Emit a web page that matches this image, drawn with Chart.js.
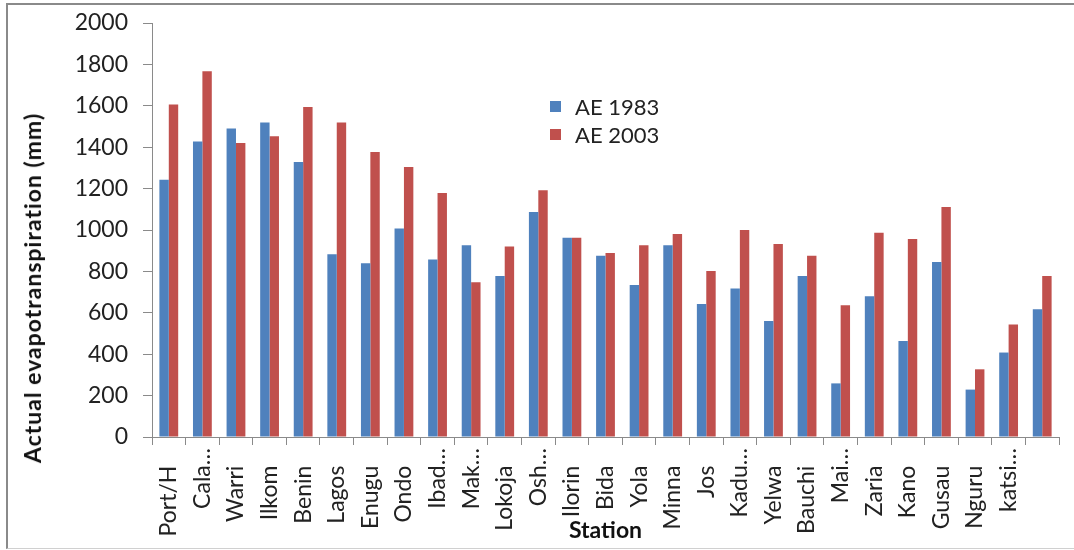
<!DOCTYPE html>
<html>
<head>
<meta charset="utf-8">
<script src="https://cdn.jsdelivr.net/npm/chart.js@4.4.1/dist/chart.umd.min.js"></script>
<style>
  html, body { margin:0; padding:0; background:#fff; }
  #wrap { position:relative; width:1074px; height:550px; overflow:hidden; }
  #frame { position:absolute; left:6px; top:3px; width:1200px; height:543px;
           border-top:2px solid #8a8a8a; border-left:2px solid #8a8a8a; border-bottom:1px solid #d0d0d0; }
  canvas { position:absolute; left:0; top:0; }
  #ytitle { position:absolute; left:32px; top:288px; transform:translate(-50%,-50%) rotate(-90deg);
            white-space:nowrap; font-family:Lato, sans-serif; font-weight:bold; font-size:23px; letter-spacing:1px; color:#111; }
  #legend { position:absolute; left:550px; top:92px; font-family:Lato, sans-serif; font-size:22px; color:#222; }
  .li { display:flex; align-items:center; height:28px; }
  .sw { width:11px; height:11px; margin-right:14px; }
</style>
</head>
<body>
<div id="wrap">
  <div id="frame"></div>
  <canvas id="c" width="1074" height="550"></canvas>
  <div id="ytitle"></div>
  <div id="legend"></div>
</div>
<script>
const stations = ["Port/H   ","Cala…","Warri   ","Ilkom   ","Benin   ","Lagos   ","Enugu   ","Ondo   ","Ibad…","Mak…","Lokoja   ","Osh…","Ilorin   ","Bida   ","Yola   ","Minna   ","Jos   ","Kadu…","Yelwa   ","Bauchi   ","Mai…","Zaria   ","Kano   ","Gusau   ","Nguru   ","katsi…",""];
const ae1983 = [1243,1427,1490,1519,1329,883,839,1007,858,926,778,1087,963,876,734,926,643,717,560,778,259,680,464,845,229,408,617];
const ae2003 = [1606,1767,1420,1453,1594,1519,1377,1304,1179,747,920,1192,963,889,926,981,802,1000,932,876,636,987,957,1111,327,543,778];
const seriesNames = ["AE 1983","AE 2003"];
const seriesColors = ["#4F81BD","#C0504D"];
const yTicksMin = 0, yTicksMax = 2000, yStep = 200;
const yTitle = "Actual evapotranspiration (mm)";
const xTitle = "Station";

document.getElementById('ytitle').textContent = yTitle;
const lg = document.getElementById('legend');
seriesNames.forEach((n,i)=>{
  const row = document.createElement('div'); row.className='li';
  const sw = document.createElement('div'); sw.className='sw'; sw.style.background=seriesColors[i];
  const t = document.createElement('span'); t.textContent=n;
  row.appendChild(sw); row.appendChild(t); lg.appendChild(row);
});

const FONT = "Lato, sans-serif";
new Chart(document.getElementById('c'), {
  type:'bar',
  data:{
    labels: stations,
    datasets:[
      {label:seriesNames[0], data:ae1983, backgroundColor:seriesColors[0], borderWidth:0},
      {label:seriesNames[1], data:ae2003, backgroundColor:seriesColors[1], borderWidth:0}
    ]
  },
  options:{
    responsive:false, animation:false, maintainAspectRatio:false,
    layout:{padding:{top:23,right:15,left:0,bottom:0}},
    plugins:{legend:{display:false}, tooltip:{enabled:false}},
    datasets:{bar:{categoryPercentage:0.56, barPercentage:1.0}},
    scales:{
      x:{
        afterFit:(s)=>{ s.height = 113; },
        grid:{display:true, drawOnChartArea:false, drawTicks:true, tickLength:8, offset:true, color:'#8a8a8a', lineWidth:1},
        border:{display:true, color:'#8a8a8a', width:1},
        ticks:{autoSkip:false, maxRotation:90, minRotation:90, padding:3, color:'#222', font:{family:FONT, size:23}},
        title:{display:true, text:xTitle, color:'#111', font:{family:FONT, size:23, weight:'bold'}, padding:{top:0,bottom:6}}
      },
      y:{
        min:yTicksMin, max:yTicksMax,
        afterFit:(s)=>{ s.width = 152; s.paddingTop = 0; s.paddingBottom = 0; },
        grid:{display:true, drawOnChartArea:false, drawTicks:true, tickLength:9, color:'#8a8a8a'},
        border:{display:true, color:'#8a8a8a', width:1},
        ticks:{stepSize:yStep, padding:15, color:'#222', font:{family:FONT, size:23}, callback:(v)=>String(v)}
      }
    }
  }
});
</script>
</body>
</html>
